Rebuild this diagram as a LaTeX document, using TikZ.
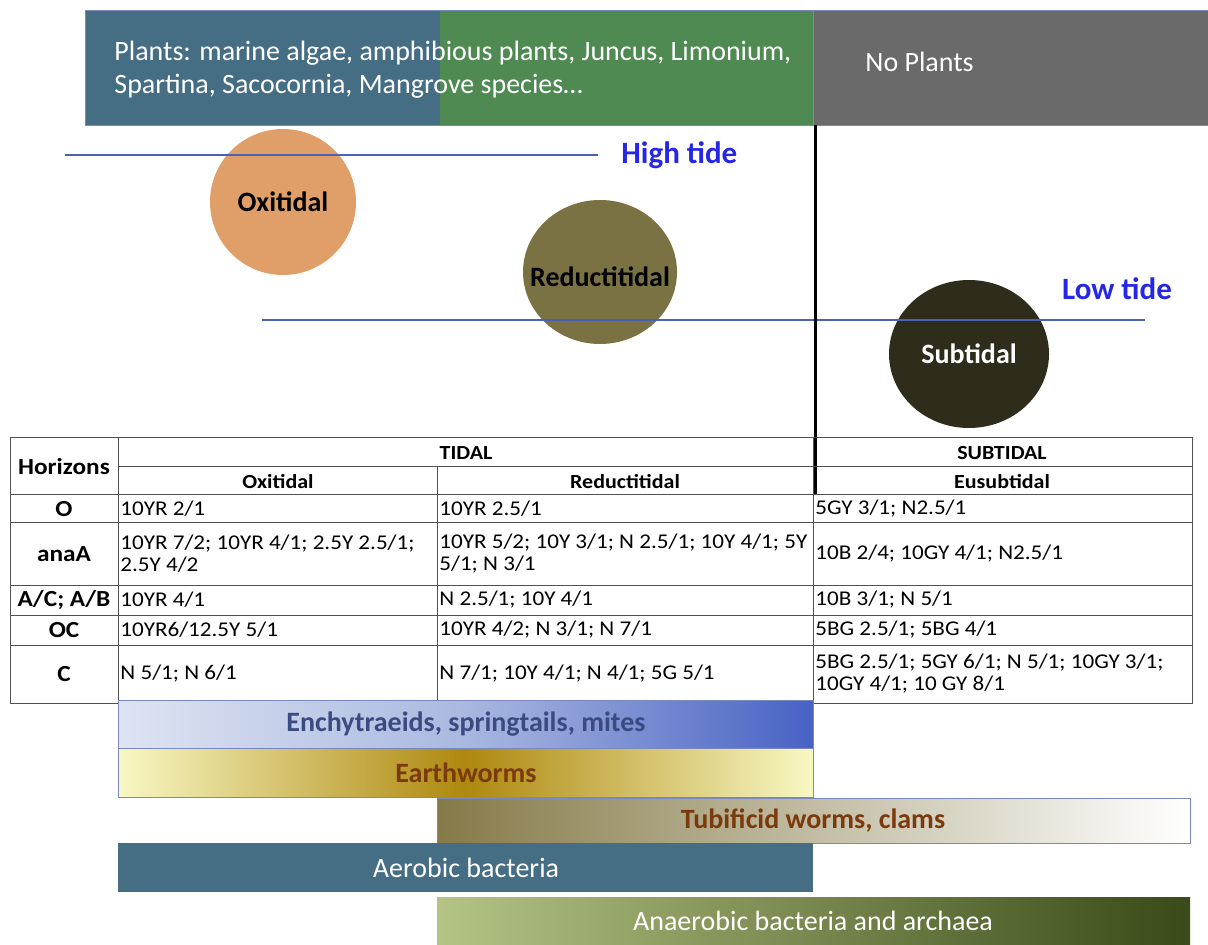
\documentclass[tikz,border=0pt]{standalone}
\usepackage{fontspec}
\setmainfont{Carlito}
\newfontfamily\tabfont{Carlito}[FakeStretch=1.1]
\usetikzlibrary{positioning,shapes.geometric,shadings}

\definecolor{plantblue}{HTML}{456E85}
\definecolor{plantgreen}{HTML}{4E8A52}
\definecolor{noplant}{HTML}{6A6A6A}
\definecolor{frameblue}{HTML}{7A88C0}
\definecolor{tideblue}{HTML}{4A62B4}
\definecolor{labelblue}{HTML}{2626E6}
\definecolor{oxicol}{HTML}{E09E68}
\definecolor{reducol}{HTML}{7B7244}
\definecolor{subcol}{HTML}{302C1B}
\definecolor{gridcol}{HTML}{505050}
\definecolor{enchlight}{HTML}{DEE4F2}
\definecolor{enchmid}{HTML}{A9B8E0}
\definecolor{enchdark}{HTML}{4862C4}
\definecolor{enchtext}{HTML}{3C4A82}
\definecolor{wormlight}{HTML}{F8F8C4}
\definecolor{wormgold}{HTML}{AE880F}
\definecolor{browntext}{HTML}{7B3A0C}
\definecolor{tubidark}{HTML}{857A48}
\definecolor{anaelight}{HTML}{B4C484}
\definecolor{anaedark}{HTML}{3A4A18}

\tikzset{
  band/.style={draw=frameblue, line width=0.4pt},
  bandtext/.style={font=\fontsize{14}{16}\selectfont\bfseries},
  plaintext/.style={font=\fontsize{14}{16.5}\selectfont, text=white},
  grid/.style={draw=gridcol, line width=0.5pt},
  cell/.style={anchor=west, inner sep=1pt, align=left, font=\tabfont\fontsize{10.5}{11}\selectfont},
  headcell/.style={font=\tabfont\fontsize{10}{12}\selectfont\bfseries},
  rowhead/.style={font=\tabfont\fontsize{11.5}{13}\selectfont\bfseries},
  zone/.style={ellipse, inner sep=0pt, font=\fontsize{14}{16}\selectfont\bfseries},
  tideline/.style={draw=tideblue, line width=1.1pt},
  tidelabel/.style={text=labelblue, font=\fontsize{15.5}{18}\selectfont\bfseries},
}

\begin{document}
\begin{tikzpicture}[x=0.5pt,y=-0.5pt]
\useasboundingbox (0,0) rectangle (1208,945);

% plant cover
\fill[plantblue] (85,10) rectangle (440,125);
\fill[plantgreen] (440,10) rectangle (813,125);
\fill[noplant] (813,10) rectangle (1208,125);
\draw[band] (85,10) rectangle (1208,125);
\draw[band] (813,10) -- (813,125);
\node[plaintext, anchor=north west, align=left, inner sep=0pt] (plants) at (114,41)
  {Plants: marine algae, amphibious plants, Juncus, Limonium,\\Spartina, Sacocornia, Mangrove species\dots};
\node[plaintext, anchor=west, inner sep=0pt] (noplants) at (865,62) {No Plants};

% zones
\node[zone, fill=oxicol, minimum width=73pt, minimum height=73pt] (oxi) at (283,202) {Oxitidal};
\node[zone, fill=reducol, minimum width=77pt, minimum height=72pt] (redu) at (600,272) {};
\node[zone, font=\fontsize{14}{16}\selectfont\bfseries] (redulabel) at (600,277) {Reductitidal};
\node[zone, fill=subcol, text=white, minimum width=80pt, minimum height=74pt] (sub) at (969,354) {Subtidal};

% tides
\coordinate (hstart) at (65,155);
\coordinate (hend) at (598,155);
\draw[tideline] (hstart) -- (hend);
\node[tidelabel, anchor=west, inner sep=0pt] (high) at (621,155) {High tide};
\coordinate (lstart) at (262,320);
\coordinate (lend) at (1145,320);
\draw[tideline] (lstart) -- (lend);
\node[tidelabel] (low) at (1117,289) {Low tide};

% divide
\coordinate (divtop) at (815,125);
\coordinate (divbot) at (815,495);
\draw[line width=1.5pt] (divtop) -- (divbot);

% table
\draw[grid] (10,438) rectangle (1192,703);
\draw[grid] (118,467) -- (1192,467);
\foreach \y in {495,523,585,615,645}
  \draw[grid] (10,\y) -- (1192,\y);
\foreach \x in {118,813}
  \draw[grid] (\x,438) -- (\x,703);
\draw[grid] (437,467) -- (437,703);

\node[rowhead] (horizons) at (64,467) {Horizons};
\node[headcell] (tidal) at (466,453) {TIDAL};
\node[headcell] (subtidal) at (1002,453) {SUBTIDAL};
\node[headcell] (hoxi) at (278,482) {Oxitidal};
\node[headcell] (hredu) at (625,482) {Reductitidal};
\node[headcell] (heusub) at (1002,482) {Eusubtidal};

\node[rowhead] (ho) at (64,509) {O};
\node[rowhead] (hanaa) at (64,554) {anaA};
\node[rowhead] (hac) at (64,600) {A/C; A/B};
\node[rowhead] (hoc) at (64,630) {OC};
\node[rowhead] (hc) at (64,674) {C};

\node[cell] (o1) at (118,509) {10YR 2/1};
\node[cell] (o2) at (437,509) {10YR 2.5/1};
\node[cell] (o3) at (813,509) {5GY 3/1; N2.5/1};
\node[cell] (a1) at (118,554) {10YR 7/2; 10YR 4/1; 2.5Y 2.5/1;\\2.5Y 4/2};
\node[cell] (a2) at (437,554) {10YR 5/2; 10Y 3/1; N 2.5/1; 10Y 4/1; 5Y\\5/1; N 3/1};
\node[cell] (a3) at (813,554) {10B 2/4; 10GY 4/1; N2.5/1};
\node[cell] (ac1) at (118,600) {10YR 4/1};
\node[cell] (ac2) at (437,600) {N 2.5/1; 10Y 4/1};
\node[cell] (ac3) at (813,600) {10B 3/1; N 5/1};
\node[cell] (oc1) at (118,630) {10YR6/12.5Y 5/1};
\node[cell] (oc2) at (437,630) {10YR 4/2; N 3/1; N 7/1};
\node[cell] (oc3) at (813,630) {5BG 2.5/1; 5BG 4/1};
\node[cell] (c1) at (118,674) {N 5/1; N 6/1};
\node[cell] (c2) at (437,674) {N 7/1; 10Y 4/1; N 4/1; 5G 5/1};
\node[cell] (c3) at (813,674) {5BG 2.5/1; 5GY 6/1; N 5/1; 10GY 3/1;\\10GY 4/1; 10 GY 8/1};

% organisms
\shade[left color=enchlight, right color=enchdark, middle color=enchmid] (118,700) rectangle (813,748);
\draw[band] (118,700) rectangle (813,748);
\node[bandtext, text=enchtext] (ench) at (466,724) {Enchytraeids, springtails, mites};
\shade[left color=wormlight, right color=wormlight, middle color=wormgold] (118,748) rectangle (813,797);
\draw[band] (118,748) rectangle (813,797);
\node[bandtext, text=browntext] (worms) at (466,773) {Earthworms};
\shade[left color=tubidark, right color=white] (437,798) rectangle (1190,843);
\draw[band] (437,798) rectangle (1190,843);
\node[bandtext, text=browntext] (tubi) at (813,821) {Tubificid worms, clams};
\fill[plantblue] (118,843) rectangle (813,892);
\node[bandtext, font=\fontsize{14}{16}\selectfont, text=white] (aero) at (466,868) {Aerobic bacteria};
\shade[left color=anaelight, right color=anaedark] (437,897) rectangle (1190,945);
\node[bandtext, font=\fontsize{14}{16}\selectfont, text=white] (anae) at (813,921) {Anaerobic bacteria and archaea};
\end{tikzpicture}
\end{document}
